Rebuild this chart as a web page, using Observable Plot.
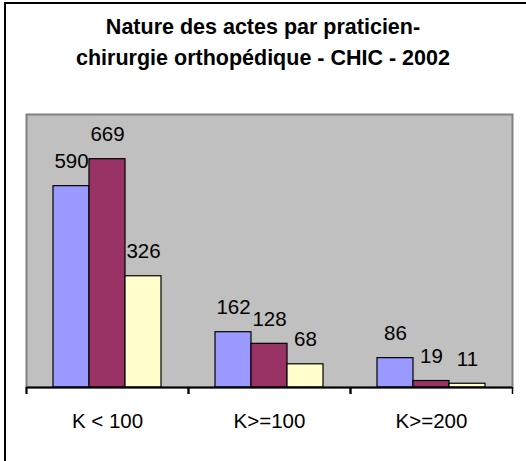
<!DOCTYPE html>
<html>
<head>
<meta charset="utf-8">
<script src="https://cdn.jsdelivr.net/npm/d3@7"></script>
<script src="https://cdn.jsdelivr.net/npm/@observablehq/plot@0.6"></script>
<style>
  html, body { margin: 0; padding: 0; background: #fff; overflow: hidden; }
  #wrap { position: relative; width: 526px; height: 461px; overflow: hidden; font-family: "Liberation Sans", Arial, sans-serif; }
  #box { position: absolute; left: 4px; top: 2px; width: 700px; height: 700px; border: 2px solid #000; box-sizing: border-box; }
  #title { position: absolute; left: 0; top: 12px; width: 526px; text-align: center; font-weight: bold; font-size: 21.5px; line-height: 31px; color: #000; }
  #chart { position: absolute; left: 0; top: 0; }
</style>
</head>
<body>
<div id="wrap">
  <div id="box"></div>
  <div id="title">Nature des actes par praticien-<br>chirurgie orthopédique - CHIC - 2002</div>
  <div id="chart"></div>
</div>
<script>
const groups = ["K < 100", "K>=100", "K>=200"];
const series = ["Praticien 1", "Praticien 2", "Praticien 3"];
const valuesP1 = [590, 162, 86];
const valuesP2 = [669, 128, 19];
const valuesP3 = [326, 68, 11];
const colors = ["#9999FF", "#993366", "#FFFFCC"];

const seriesValues = [valuesP1, valuesP2, valuesP3];
const data = groups.flatMap((g, i) => series.map((s, j) => ({group: g, series: s, value: seriesValues[j][i]})));

const W = 526, H = 461, ML = 26, MR = 14, MT = 114, MB = 74;
const facetWidth = (W - ML - MR) / groups.length;

const chart = Plot.plot({
  width: W,
  height: H,
  marginLeft: ML,
  marginRight: MR,
  marginTop: MT,
  marginBottom: MB,
  style: {fontFamily: "'Liberation Sans', Arial, sans-serif", fontSize: "20.5px", background: "none", color: "#000", overflow: "visible"},
  fx: {domain: groups, paddingInner: 0, paddingOuter: 0, label: null},
  x: {domain: series, paddingInner: 0, paddingOuter: 0.75, axis: null},
  y: {domain: [0, 800], axis: null},
  color: {domain: series, range: colors},
  marks: [
    Plot.frame({fill: "#C0C0C0", stroke: "#808080", strokeWidth: 2, facet: "super"}),
    Plot.barY(data, {fx: "group", x: "series", y: "value", fill: "series", stroke: "#000", strokeWidth: 1.2}),
    Plot.text(data, {fx: "group", x: "series", y: "value", text: d => String(d.value), dy: -18, lineAnchor: "bottom", fontSize: 20.5, fill: "#000"}),
    Plot.ruleY([0], {stroke: "#000", strokeWidth: 2}),
    Plot.axisFx({anchor: "bottom", tickSize: 0, tickPadding: 26, fontSize: 20.5, color: "#000", label: null}),
    Plot.axisFx(groups, {anchor: "bottom", tickSize: 7, text: null, dx: -facetWidth / 2, strokeWidth: 1.5, color: "#000", label: null}),
    Plot.axisFx([groups[groups.length - 1]], {anchor: "bottom", tickSize: 7, text: null, dx: facetWidth / 2, strokeWidth: 1.5, color: "#000", label: null})
  ]
});
document.getElementById("chart").appendChild(chart);
</script>
</body>
</html>
